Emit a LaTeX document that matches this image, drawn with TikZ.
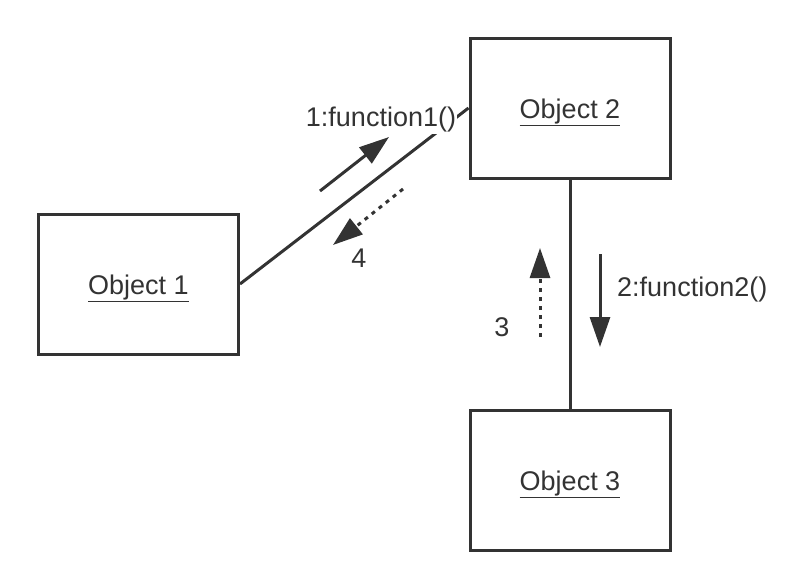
\documentclass[tikz,border=0pt]{standalone}
\usepackage{fontspec}
\setmainfont{Liberation Sans}
\usepackage{tikz}
\usetikzlibrary{positioning, arrows.meta}
\definecolor{ink}{HTML}{333333}

\begin{document}
\begin{tikzpicture}[x=1pt, y=1pt, node distance=229pt,
	obj/.style={draw=ink, line width=3pt, minimum width=200pt, minimum height=140pt, text height=24pt, text depth=3pt, font=\fontsize{27}{31}\selectfont, text=ink},
	lbl/.style={font=\fontsize{27}{31}\selectfont, text=ink, inner sep=1pt},
	msg/.style={-{Triangle[length=30pt, width=20pt]}, line width=3pt, ink},
	ret/.style={msg, dash pattern=on 4pt off 5pt}]
						\useasboundingbox (0,0) rectangle (812,-584);
						\node[obj] (o1) at (138.5,-284) {\underline{Object 1}};
						\node[obj] (o2) at (570,-108) {\underline{Object 2}};
						\node[obj, below=of o2] (o3) {\underline{Object 3}};
						\coordinate (m1s) at (320,-191);
						\coordinate (m1e) at (389,-137);
						\coordinate (r4s) at (403,-189);
						\coordinate (r4e) at (333,-245);
						\coordinate (m2s) at (600,-254);
						\coordinate (m2e) at (600,-347);
						\coordinate (r3s) at (540,-337);
						\coordinate (r3e) at (540,-248);
						\draw
						(o1.east) edge[-, line width=3pt, ink] (o2.west)
						(o2.south) edge[-, line width=3pt, ink] (o3.north)
						(m1s) edge[msg] (m1e)
						(r4s) edge[ret] (r4e)
						(m2s) edge[msg] (m2e)
						(r3s) edge[ret] (r3e);
						\node[lbl, fill=white] (f1) at (381,-120) {1:function1()};
						\node[lbl] (n4) at (359,-258) {4};
						\node[lbl, anchor=west] (f2) at (616,-290) {2:function2()};
						\node[lbl] (n3) at (502,-327) {3};
					\end{tikzpicture}
\end{document}
